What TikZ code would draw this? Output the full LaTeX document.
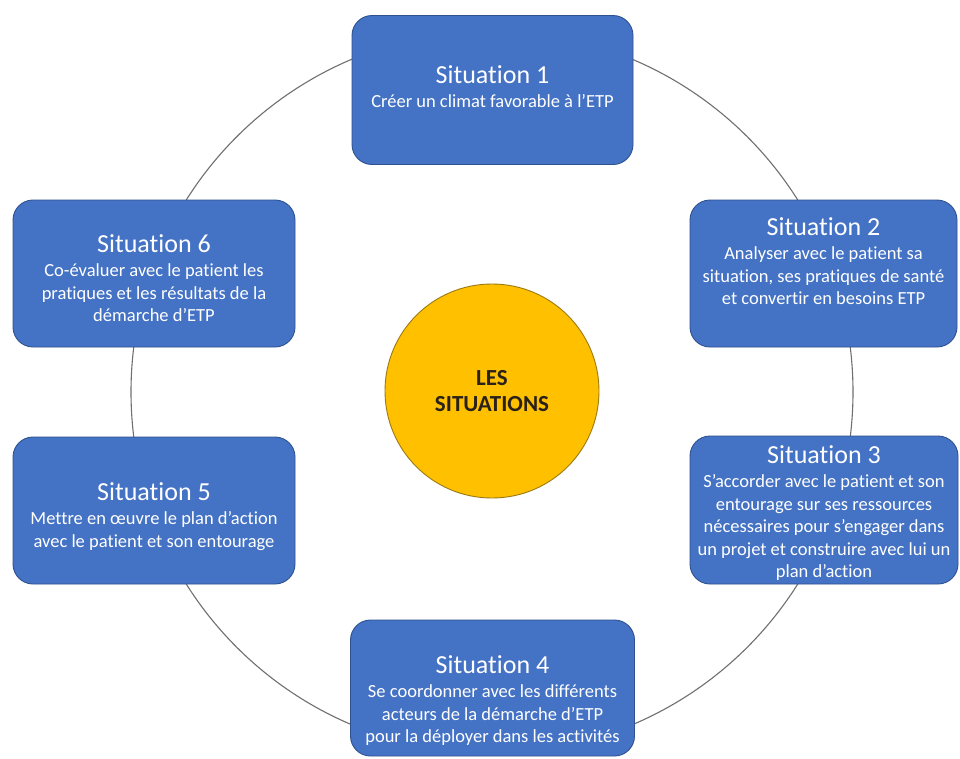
\documentclass[tikz,border=0pt]{standalone}
\usepackage{fontspec}
\setmainfont{Carlito}[RawFeature={-liga;-clig;-calt}]
\definecolor{boxblue}{HTML}{4472C4}
\definecolor{boxedge}{HTML}{2F528F}
\definecolor{goldfill}{HTML}{FFC000}
\definecolor{goldedge}{HTML}{9C7A10}
\definecolor{ringgray}{HTML}{707070}
\definecolor{labeldark}{HTML}{2A2218}
\begin{document}
\begin{tikzpicture}[x=1pt,y=-1pt,
  situbox/.style={draw=boxedge, line width=0.9pt, fill=boxblue, rounded corners=20pt, inner sep=0pt},
  situtext/.style={text=white, align=center, anchor=north, inner sep=0pt,
    font=\fontsize{18.5}{22.5}\selectfont},
  ringline/.style={draw=ringgray, line width=1.1pt},
  hub/.style={circle, draw=goldedge, line width=0.9pt, fill=goldfill, minimum size=214pt,
    inner sep=0pt, align=center, text=labeldark, font=\fontsize{23}{26}\selectfont\bfseries}
]
\fill[white] (0,0) rectangle (960,758);
\useasboundingbox (0,0) rectangle (960,758);

\coordinate (ring) at (492,392);
\draw[ringline] (ring) circle[radius=361];

\newcommand{\sittitle}[1]{{\fontsize{26}{22.5}\selectfont #1}\\[1.5pt]}

\node[situbox, minimum width=281pt, minimum height=149pt] (s1) at (492.5,90) {};
\node[situbox, minimum width=267pt, minimum height=147pt] (s2) at (823.5,273.5) {};
\node[situbox, minimum width=268pt, minimum height=148pt] (s3) at (824,510) {};
\node[situbox, minimum width=284pt, minimum height=136pt] (s4) at (492.5,688) {};
\node[situbox, minimum width=282pt, minimum height=147pt] (s5) at (154,510.5) {};
\node[situbox, minimum width=282pt, minimum height=147pt] (s6) at (154,273.5) {};

\node[situtext] (t1) at (492.5,65.5) {\sittitle{Situation 1}Créer un climat favorable à l’ETP};
\node[situtext] (t2) at (823.5,217.5) {\sittitle{Situation 2}Analyser avec le patient sa\\situation, ses pratiques de santé\\et convertir en besoins ETP};
\node[situtext] (t3) at (824,445.5) {\sittitle{Situation 3}S’accorder avec le patient et son\\entourage sur ses ressources\\nécessaires pour s’engager dans\\un projet et construire avec lui un\\plan d’action};
\node[situtext] (t4) at (492.5,655.5) {\sittitle{Situation 4}Se coordonner avec les différents\\acteurs de la démarche d’ETP\\pour la déployer dans les activités};
\node[situtext] (t5) at (154,482.5) {\sittitle{Situation 5}Mettre en œuvre le plan d’action\\avec le patient et son entourage};
\node[situtext] (t6) at (154,234.5) {\sittitle{Situation 6}Co-évaluer avec le patient les\\pratiques et les résultats de la\\démarche d’ETP};

\node[hub] (hubc) at (492,391) {LES\\SITUATIONS};
\end{tikzpicture}
\end{document}
